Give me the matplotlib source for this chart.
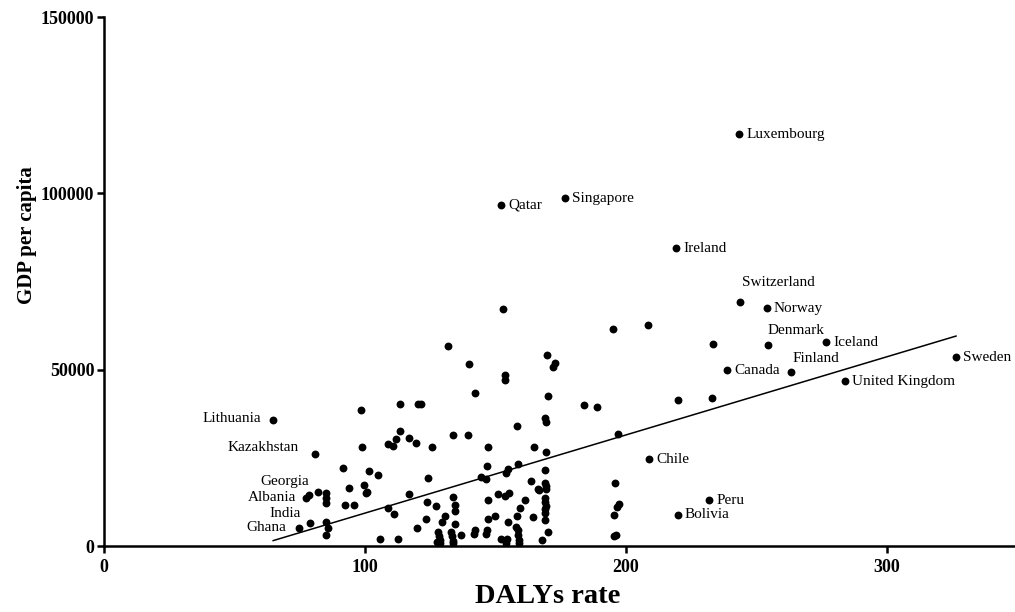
import matplotlib
matplotlib.use("Agg")
from matplotlib import pyplot as plt
import numpy as np

# unlabelled countries: DALYs rate, GDP per capita
dalys = [98.5, 113.4, 120.3, 98.7, 108.9, 110.8, 111.9, 113.5, 116.9, 119.5,
         91.4, 101.4, 104.9, 93.9, 99.6, 100.4, 100.7, 82.0, 85.2, 85.2,
         85.2, 92.3, 95.7, 117.0, 108.8, 111.1, 85.2, 85.7, 85.1, 105.9,
         112.6, 119.8, 142.1, 170.2, 121.5, 169.1, 169.2, 158.4, 133.6, 139.3,
         125.6, 147.2, 164.9, 169.3, 146.7, 154.6, 154.1, 158.5, 124.1, 144.4,
         146.2, 168.8, 163.4, 166.2, 166.8, 169.1, 169.2, 169.2, 123.9, 127.3,
         133.8, 134.3, 134.5, 147.2, 151.0, 153.8, 155.1, 161.4, 159.4, 169.0,
         169.0, 169.2, 169.0, 169.0, 123.4, 130.7, 129.6, 134.4, 128.1, 128.5,
         128.7, 127.7, 128.7, 133.1, 133.4, 133.7, 133.5, 136.6, 142.0, 141.8,
         147.0, 149.9, 146.6, 146.3, 152.1, 154.4, 153.9, 154.7, 158.2, 158.0,
         158.5, 158.7, 159.1, 159.1, 164.3, 169.0, 170.0, 167.7, 152.7, 131.8,
         139.9, 153.6, 153.6, 169.6, 172.9, 172.1, 194.8, 208.5, 233.3, 220.0,
         232.8, 184.0, 188.9, 197.0, 195.6, 197.2, 196.4, 195.4, 195.3, 196.2]
gdp = [38530, 40230, 40230, 27960, 28900, 28330, 30230, 32500, 30600, 29100,
       22100, 21160, 20200, 16430, 17420, 14930, 15380, 15300, 15100, 13740,
       12180, 11530, 11530, 14730, 10770, 9070, 6800, 5240, 3200, 1980,
       2120, 5240, 43260, 42580, 40310, 36400, 35270, 34080, 31590, 31450,
       27960, 28050, 27990, 26720, 22580, 21960, 20770, 23170, 19210, 19630,
       18900, 21450, 18360, 16200, 15780, 17990, 17080, 16150, 12380, 11420,
       13970, 11670, 9970, 13090, 14680, 14310, 14960, 13030, 10770, 13740,
       12470, 11470, 10480, 9430, 7650, 8560, 6880, 6180, 4050, 2830,
       1700, 1220, 760, 4110, 2780, 1560, 850, 3120, 4590, 3460,
       7730, 8500, 4670, 3400, 2070, 2040, 760, 6880, 8560, 5470,
       4530, 3260, 1760, 760, 8220, 7280, 4110, 1610, 67280, 56600,
       51480, 48590, 47170, 54200, 51990, 50710, 61560, 62610, 57310, 41360,
       42010, 40000, 39460, 31640, 17900, 11810, 11050, 8700, 2970, 3200]

# labelled countries
names = ["Luxembourg", "Qatar", "Singapore", "Ireland", "Switzerland", "Norway",
         "Denmark", "Iceland", "Finland", "Canada", "United Kingdom", "Sweden",
         "Chile", "Peru", "Bolivia", "Lithuania", "Kazakhstan", "Georgia",
         "Albania", "India", "Ghana"]
named_dalys = [243.3, 152.1, 176.6, 219.2, 243.7, 253.9, 254.4, 276.6, 263.2,
               238.7, 283.9, 326.4, 208.8, 231.8, 219.9, 64.8, 80.8, 78.5,
               77.4, 78.9, 74.7]
named_gdp = [116700, 96600, 98600, 84400, 69100, 67430, 56900, 57800, 49300,
             49900, 46700, 53500, 24600, 13000, 8800, 35700, 26100, 14400,
             13700, 6600, 5200]

# linear fit
slope = 221.7
intercept = -12830

label_pos = {
    "Switzerland": (2, 20, "left"),
    "Denmark": (-1, 15, "left"),
    "Finland": (1, 14, "left"),
    "Lithuania": (-12, 2, "right"),
    "Kazakhstan": (-16, 6, "right"),
    "Georgia": (0, 14, "right"),
    "Albania": (-10, 0, "right"),
    "India": (-9, 9, "right"),
    "Ghana": (-13, 0, "right"),
}

plt.rcParams['font.family'] = ['Liberation Serif', 'DejaVu Serif']

fig = plt.figure(figsize=(10.15, 6.12), dpi=100)
ax = fig.add_axes([0.1025, 0.1078, 0.8975, 0.8644])

all_x = np.array(dalys + named_dalys)
all_y = np.array(gdp + named_gdp)
ax.scatter(all_x, all_y, s=32, color='black', zorder=3, linewidths=0)

xs = np.array([all_x.min(), all_x.max()])
ax.plot(xs, slope * xs + intercept, color='black', lw=1.1, zorder=2)

for n, x, y in zip(names, named_dalys, named_gdp):
    dx, dy, ha = label_pos.get(n, (7, 0, "left"))
    ax.annotate(n, (x, y), xytext=(dx, dy), textcoords='offset pixels',
                ha=ha, va='center', fontsize=11)

ax.set_xlim(0, 349)
ax.set_ylim(0, 150000)
ax.set_xticks([0, 100, 200, 300])
ax.set_yticks([0, 50000, 100000, 150000])
ax.spines['top'].set_visible(False)
ax.spines['right'].set_visible(False)
for s in ['left', 'bottom']:
    ax.spines[s].set_linewidth(1.8)
ax.tick_params(direction='out', length=5, width=1.8, labelsize=13)
ax.tick_params(axis='x', pad=4)
ax.tick_params(axis='y', pad=2)
for lab in ax.get_xticklabels() + ax.get_yticklabels():
    lab.set_fontweight('bold')

ax.set_xlabel('DALYs rate', fontsize=20.5, fontweight='bold')
ax.set_ylabel('GDP per capita', fontsize=15, fontweight='bold')
ax.xaxis.set_label_coords(0.487, -0.071)
ax.yaxis.set_label_coords(-0.074, 0.588)

fig.savefig('out.png', dpi=100)
